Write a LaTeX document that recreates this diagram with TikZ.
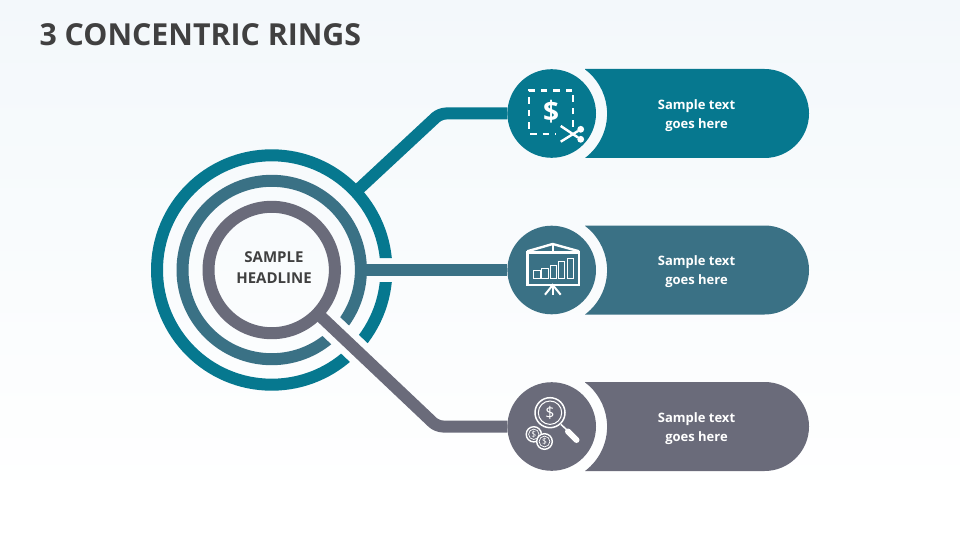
\documentclass[tikz,border=0pt]{standalone}
\usepackage{fontspec}
\setmainfont{Open Sans}
\definecolor{ringa}{HTML}{06788F}
\definecolor{ringb}{HTML}{3A7185}
\definecolor{ringc}{HTML}{6A6B7A}
\definecolor{ink}{HTML}{404040}
\definecolor{paper}{HTML}{F3F8FB}
\tikzset{
  ring/.style={draw, circle, line width=12pt, inner sep=0pt, outer sep=0pt},
  conn/.style={line width=12pt, rounded corners=6pt},
  icon/.style={circle, minimum size=88.6pt, inner sep=0pt, outer sep=0pt},
  lab/.style={text=white, align=center, font=\fontsize{13}{19}\selectfont\bfseries},
  ico/.style={draw=white, line width=2.4pt},
  thin ico/.style={draw=white, line width=1pt},
}
\begin{document}
\begin{tikzpicture}[x=1pt,y=-1pt]
\useasboundingbox (0,0) rectangle (960,540);
\shade[top color=paper, bottom color=white] (0,0) rectangle (960,500);
\fill[white] (0,500) rectangle (960,540);

\node[anchor=west, text=ink, font=\fontsize{30.3}{36}\selectfont\bfseries] (title) at (36,34.5) {3 CONCENTRIC RINGS};

% outer ring
\begin{scope}[even odd rule]
\clip (0,0) rectangle (960,540)
  (376,258) rectangle (400,282)
  (337.2,314.3) -- (319.4,333.1) -- (357.1,368.8) -- (374.9,350) -- cycle;
\node[ring, draw=ringa, minimum size=229.4pt] (outer) at (271.7,270) {};
\end{scope}
% middle ring
\begin{scope}[even odd rule]
\clip (0,0) rectangle (960,540)
  (337.2,314.3) -- (319.4,333.1) -- (357.1,368.8) -- (374.9,350) -- cycle;
\node[ring, draw=ringb, minimum size=178.4pt] (middle) at (271.7,270) {};
\end{scope}
% inner ring
\node[ring, draw=ringc, minimum size=126.4pt] (inner) at (271.7,270) {};
\node[text=ink, align=center, font=\fontsize{15}{21}\selectfont\bfseries] (headline) at (274,267.5) {SAMPLE\\HEADLINE};

% bars
\fill[ringa] (585,69) -- (764.5,69) arc[start angle=-90, end angle=90, radius=44.5] -- (585,158) arc[start angle=53, end angle=-53, radius=55.5] -- cycle;
\fill[ringb] (585,225.5) -- (764.5,225.5) arc[start angle=-90, end angle=90, radius=44.5] -- (585,314.5) arc[start angle=53, end angle=-53, radius=55.5] -- cycle;
\fill[ringc] (585,382) -- (764.5,382) arc[start angle=-90, end angle=90, radius=44.5] -- (585,471) arc[start angle=53, end angle=-53, radius=55.5] -- cycle;

\node[lab] (texta) at (696.5,115.5) {Sample text\\goes here};
\node[lab] (textb) at (696.5,272) {Sample text\\goes here};
\node[lab] (textc) at (696.5,428.5) {Sample text\\goes here};

% circles
\node[icon, fill=ringa] (icona) at (551.7,113.5) {};
\node[icon, fill=ringb] (iconb) at (551.7,270) {};
\node[icon, fill=ringc] (iconc) at (551.7,426.5) {};

% connectors
\coordinate (benda) at (440,113.5);
\coordinate (bendc) at (437,426.5);
\draw[conn, ringa] (outer) -- (benda) -- (icona);
\draw[conn, ringb] (middle) -- (iconb);
\draw[conn, ringc] (inner) -- (bendc) -- (iconc);

% dollar and scissors
\draw[ico, dash pattern=on 6.5pt off 6pt] (573,127) -- (573,90.5) -- (529,90.5) -- (529,134) -- (556,134);
\node[text=white, font=\fontsize{28}{28}\selectfont\bfseries] (dollar) at (551,111.5) {\$};
\draw[ico] (560.7,126) -- (578,137.5);
\draw[ico] (560.7,141.7) -- (578,131);
\fill[white] (580.7,129.3) circle (3.4) (580.7,139.3) circle (3.4);

% board
\draw[ico] (527.3,252.3) rectangle (579,284.7);
\draw[ico] (527.3,251.3) -- (552.7,244) -- (579,251.3);
\draw[ico] (552.7,244) -- (552.7,252);
\draw[thin ico] (533.7,278.7) rectangle (540,270.3);
\draw[thin ico] (541.7,278.7) rectangle (548,268.7);
\draw[thin ico] (550.3,278.7) rectangle (556.7,265);
\draw[thin ico] (558.3,278.7) rectangle (564.7,261.3);
\draw[thin ico] (567.3,278.7) rectangle (573.7,258);
\draw[ico, line width=2pt] (545,294.7) -- (552.7,285) -- (560.7,294.7);
\draw[ico] (552.7,285) -- (552.7,294.7);

% magnifier and coins
\draw[ico, line width=1.5pt] (550,412.7) circle (15);
\draw[thin ico] (550,412.7) circle (11.7);
\node[text=white, font=\fontsize{16}{16}\selectfont] (dollarc) at (550,412.5) {\$};
\draw[ico, line width=1.5pt] (561,424.5) -- (567,430);
\draw[white, line width=6pt, line cap=round] (568,431.5) -- (576.5,440);
\draw[ico, line width=1.4pt] (533.8,434.3) circle (7.6);
\draw[thin ico, line width=.7pt] (533.8,434.3) circle (5.2);
\node[text=white, font=\fontsize{8.5}{8.5}\selectfont] (dollara) at (533.8,434.3) {\$};
\fill[ringc] (544.5,441.5) circle (8.2);
\draw[ico, line width=1.4pt] (544.5,441.5) circle (7.8);
\draw[thin ico, line width=.7pt] (544.5,441.5) circle (5.4);
\node[text=white, font=\fontsize{8.5}{8.5}\selectfont] (dollarb) at (544.5,441.5) {\$};
\end{tikzpicture}
\end{document}
